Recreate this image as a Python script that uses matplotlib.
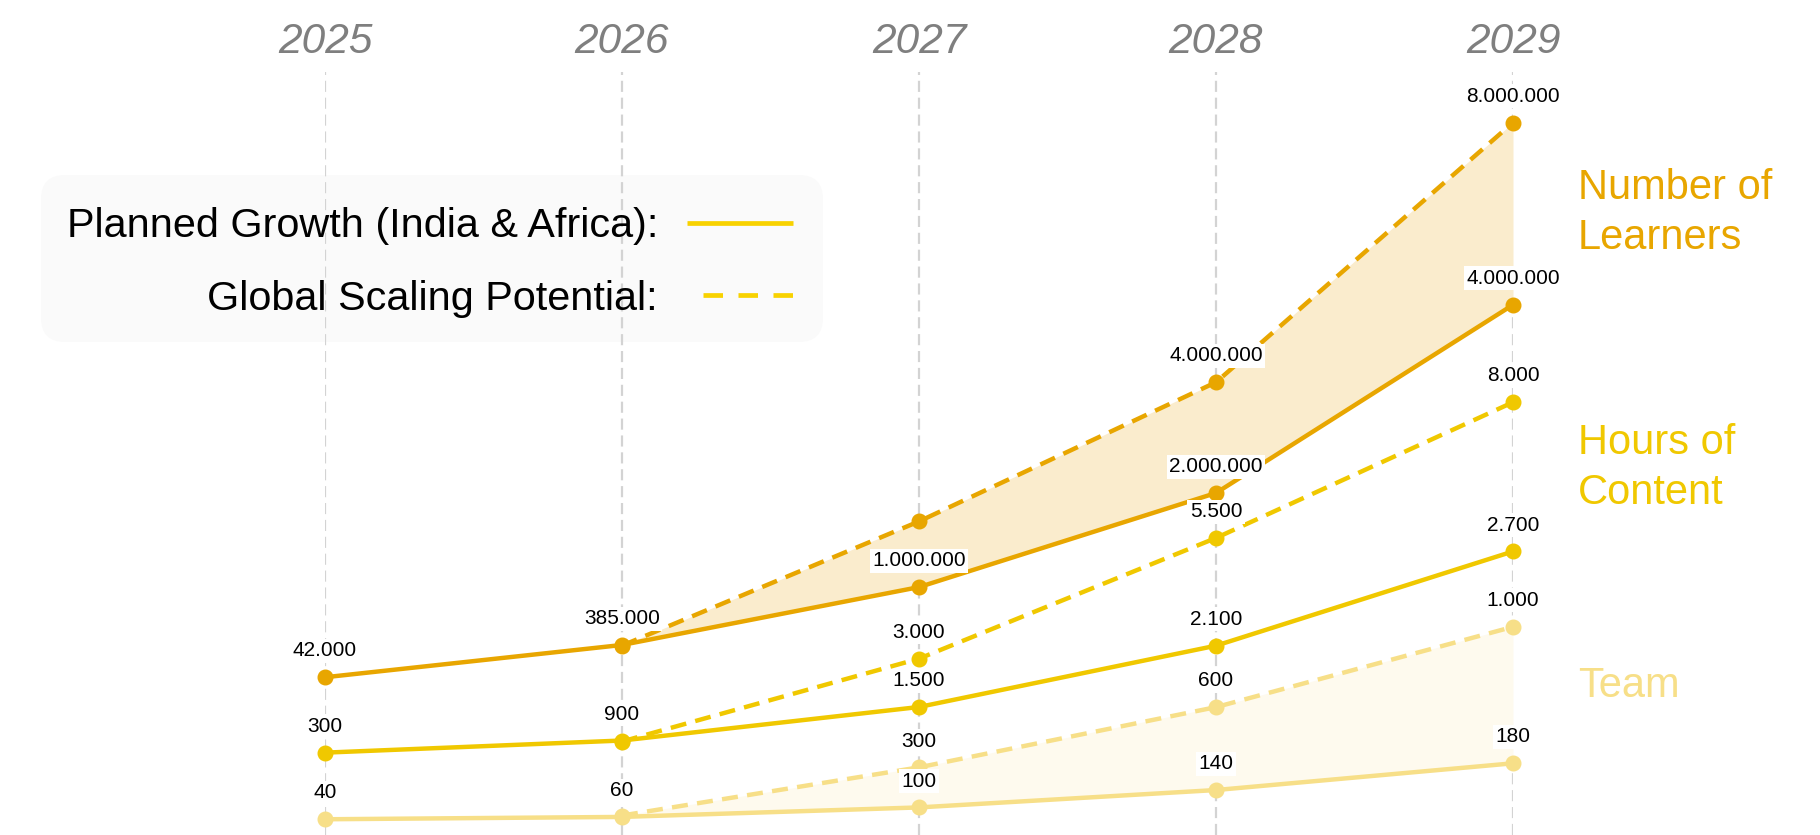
import numpy as np
import matplotlib
matplotlib.use("Agg")
import matplotlib.pyplot as plt
from matplotlib.patches import FancyBboxPatch
from matplotlib.lines import Line2D
from matplotlib.transforms import IdentityTransform

# ---------------- data ----------------
years = [2025, 2026, 2027, 2028, 2029]
global_years = [2026, 2027, 2028, 2029]

learners_planned = [42000, 385000, 1000000, 2000000, 4000000]
learners_global = [385000, 2000000, 4000000, 8000000]
hours_planned = [300, 900, 1500, 2100, 2700]
hours_global = [900, 3000, 5500, 8000]
team_planned = [40, 60, 100, 140, 180]
team_global = [60, 300, 600, 1000]

# which value labels of the global series are shown
learners_global_shown = [False, False, True, True]
hours_global_shown = [False, True, True, True]
team_global_shown = [False, True, True, True]

group_names = ["Number of\nLearners", "Hours of\nContent", "Team"]
legend_labels = ["Planned Growth (India & Africa):", "Global Scaling Potential:"]

# ---------------- style ----------------
W, H = 1820, 835
plt.rcParams["font.family"] = ["Liberation Sans", "DejaVu Sans"]

C_LEARN = "#E8A600"
C_HOURS = "#F0C800"
C_TEAM = "#F7DF88"
C_LEGEND = "#F8D200"
F_LEARN = "#FAECCD"
F_TEAM = "#FEFAEE"
GRID = "#D3D3D3"

fig = plt.figure(figsize=(W / 100, H / 100), dpi=100)
pos = [325 / W, 0.0, 1188 / W, 1.0]

ax = fig.add_axes(pos, label="main")
ax.set_axis_off()


def scale_axes(name, power, lo, hi):
    """Invisible axes that supplies the value scale of one series."""
    a = fig.add_axes(pos, label=name)
    a.set_xlim(years[0], years[-1])
    if power != 1:
        a.set_yscale("function", functions=(
            lambda v, p=power: np.sign(v) * np.abs(v) ** p,
            lambda y, p=power: np.sign(y) * np.abs(y) ** (1.0 / p)))
    a.set_ylim(lo, hi)
    a.set_axis_off()
    return a


s_lp = scale_axes("learners_planned", 1, -1.6344e6, 7.2391e6)
s_lg = scale_axes("learners_global", 0.9, -1.8929e6, 9.970e6)
s_hp = scale_axes("hours_planned", 2.5, -1878, 4571)
s_hg = scale_axes("hours_global", 1.25, -2141, 14530)
s_tp = scale_axes("team_planned", 2.5, -103.6, 522)
s_tg = scale_axes("team_global", 1, -37.06, 4122.8)

# gridlines and year headers
for yr in years:
    ax.axvline(yr, ymin=0, ymax=1 - 72 / H, color=GRID, lw=1.6,
               ls=(0, (5, 2.6)), zorder=1)
    ax.text(yr, 1 - 53.3 / H, str(yr), transform=ax.get_xaxis_transform(),
            ha="center", va="baseline", fontsize=30.5, style="italic",
            weight="normal", color="#7F7F7F")


def fmt(v):
    return f"{v:,}".replace(",", ".")


def fill_gap(s_planned, s_global, planned, glob, color):
    pts = np.column_stack([global_years, planned[1:]])
    conv = s_global.transData.inverted().transform(
        s_planned.transData.transform(pts))[:, 1]
    ax.fill_between(global_years, glob, conv, transform=s_global.transData,
                    color=color, lw=0, zorder=1.5)


fill_gap(s_lp, s_lg, learners_planned, learners_global, F_LEARN)
fill_gap(s_tp, s_tg, team_planned, team_global, F_TEAM)

LW = 3.2
MS = 10.5
DASH = (0, (3.6, 2.1))


def draw_series(scale, xs, vals, color, dashed, shown=None):
    ax.plot(xs, vals, transform=scale.transData, color=color, lw=LW,
            ls=DASH if dashed else "-", marker="o", ms=MS, mec=color,
            mfc=color, clip_on=False, zorder=4 if dashed else 5,
            solid_capstyle="round")
    for i, (x, v) in enumerate(zip(xs, vals)):
        if shown is not None and not shown[i]:
            continue
        ax.annotate(fmt(v), xy=(x, v), xycoords=scale.transData,
                    xytext=(0, 15), textcoords="offset points",
                    ha="center", va="baseline", fontsize=15, color="black",
                    bbox=dict(boxstyle="square,pad=0.12", fc="white",
                              ec="none"),
                    zorder=10, annotation_clip=False)


draw_series(s_tg, global_years, team_global, C_TEAM, True, team_global_shown)
draw_series(s_tp, years, team_planned, C_TEAM, False)
draw_series(s_hg, global_years, hours_global, C_HOURS, True, hours_global_shown)
draw_series(s_hp, years, hours_planned, C_HOURS, False)
draw_series(s_lg, global_years, learners_global, C_LEARN, True,
            learners_global_shown)
draw_series(s_lp, years, learners_planned, C_LEARN, False)

ax.set_xlim(years[0], years[-1])
ax.set_ylim(0, 1)

# group names on the right
for name, color, ytop in zip(group_names, [C_LEARN, C_HOURS, C_TEAM],
                             [168, 423, 666]):
    fig.text(1578 / W, 1 - ytop / H, name, ha="left", va="top", fontsize=30,
             color=color, linespacing=1.33)

# legend (manual)
box = FancyBboxPatch((41, H - 342), 782, 167,
                     boxstyle="round,pad=0,rounding_size=24",
                     transform=IdentityTransform(), fc="#FAFAFA", ec="none",
                     zorder=-1)
fig.add_artist(box)
fig.text(658 / W, 1 - 237 / H, legend_labels[0], ha="right", va="baseline",
         fontsize=29.8, color="black")
fig.text(658 / W, 1 - 309.5 / H, legend_labels[1], ha="right", va="baseline",
         fontsize=29.8, color="black")
fig.add_artist(Line2D([687 / W, 793 / W], [1 - 223.3 / H] * 2,
                      transform=fig.transFigure, color=C_LEGEND, lw=3.4,
                      solid_capstyle="butt"))
fig.add_artist(Line2D([703.3 / W, 793 / W], [1 - 295.3 / H] * 2,
                      transform=fig.transFigure, color=C_LEGEND, lw=3.4,
                      ls=(0, (4.13, 3.28)), dash_capstyle="butt"))

fig.savefig("out.png", dpi=100)
